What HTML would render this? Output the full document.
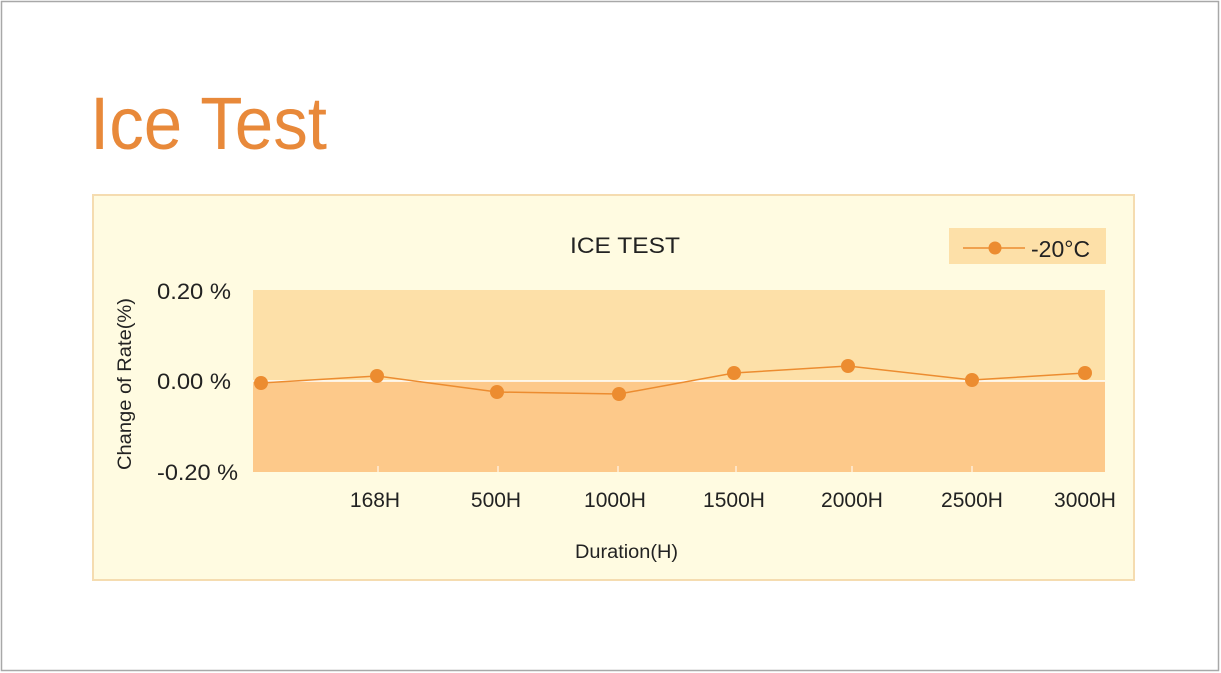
<!DOCTYPE html>
<html><head><style>
body{margin:0;background:#fff;}
svg{display:block;font-family:"Liberation Sans",Arial,sans-serif;}
</style></head><body>
<svg width="1221" height="673" viewBox="0 0 1221 673">
<rect x="1.5" y="1.5" width="1217" height="669" fill="#fff" stroke="#a8a8a8" stroke-width="1.5"/>
<text x="90" y="149" font-size="74" fill="#e8893a" textLength="237" lengthAdjust="spacingAndGlyphs">Ice Test</text>
<rect x="93" y="195" width="1041" height="385" fill="#fffbe1" stroke="#f5dcb0" stroke-width="2"/>
<text x="570" y="253" font-size="22" fill="#222" textLength="110" lengthAdjust="spacingAndGlyphs">ICE  TEST</text>
<rect x="949" y="228" width="157" height="36" fill="#fde0a8"/>
<line x1="963" y1="248" x2="1025" y2="248" stroke="#ec8c30" stroke-width="1.5"/>
<circle cx="995" cy="248" r="6.5" fill="#ec8c30"/>
<text x="1031" y="257" font-size="23" fill="#222">-20°C</text>
<rect x="253" y="290" width="852" height="91" fill="#fde0a8"/>
<rect x="253" y="381" width="852" height="91" fill="#fdc98a"/>
<line x1="253" y1="381" x2="1105" y2="381" stroke="#fff" stroke-width="1.5"/>
<g stroke="#fff" stroke-width="1">
<line x1="378" y1="466" x2="378" y2="472"/><line x1="498" y1="466" x2="498" y2="472"/><line x1="618" y1="466" x2="618" y2="472"/><line x1="736" y1="466" x2="736" y2="472"/><line x1="852" y1="466" x2="852" y2="472"/><line x1="972" y1="466" x2="972" y2="472"/>
</g>
<g font-size="22" fill="#222">
<text x="157" y="299" textLength="74" lengthAdjust="spacingAndGlyphs">0.20 %</text>
<text x="157" y="389" textLength="74" lengthAdjust="spacingAndGlyphs">0.00 %</text>
<text x="157" y="480" textLength="81" lengthAdjust="spacingAndGlyphs">-0.20 %</text>
</g>
<text transform="translate(131,384) rotate(-90)" font-size="19" fill="#222" text-anchor="middle" textLength="172" lengthAdjust="spacingAndGlyphs">Change of Rate(%)</text>
<g font-size="21" fill="#222" text-anchor="middle">
<text x="375" y="507">168H</text><text x="496" y="507">500H</text><text x="615" y="507">1000H</text><text x="734" y="507">1500H</text><text x="852" y="507">2000H</text><text x="972" y="507">2500H</text><text x="1085" y="507">3000H</text>
</g>
<text x="575" y="558" font-size="19" fill="#222" textLength="103" lengthAdjust="spacingAndGlyphs">Duration(H)</text>
<polyline points="261,383 377,376 497,392 619,394 734,373 848,366 972,380 1085,373" fill="none" stroke="#ec8c30" stroke-width="1.5"/>
<g fill="#ec8c30">
<circle cx="261" cy="383" r="7"/><circle cx="377" cy="376" r="7"/><circle cx="497" cy="392" r="7"/><circle cx="619" cy="394" r="7"/><circle cx="734" cy="373" r="7"/><circle cx="848" cy="366" r="7"/><circle cx="972" cy="380" r="7"/><circle cx="1085" cy="373" r="7"/>
</g>
</svg>
</body></html>
